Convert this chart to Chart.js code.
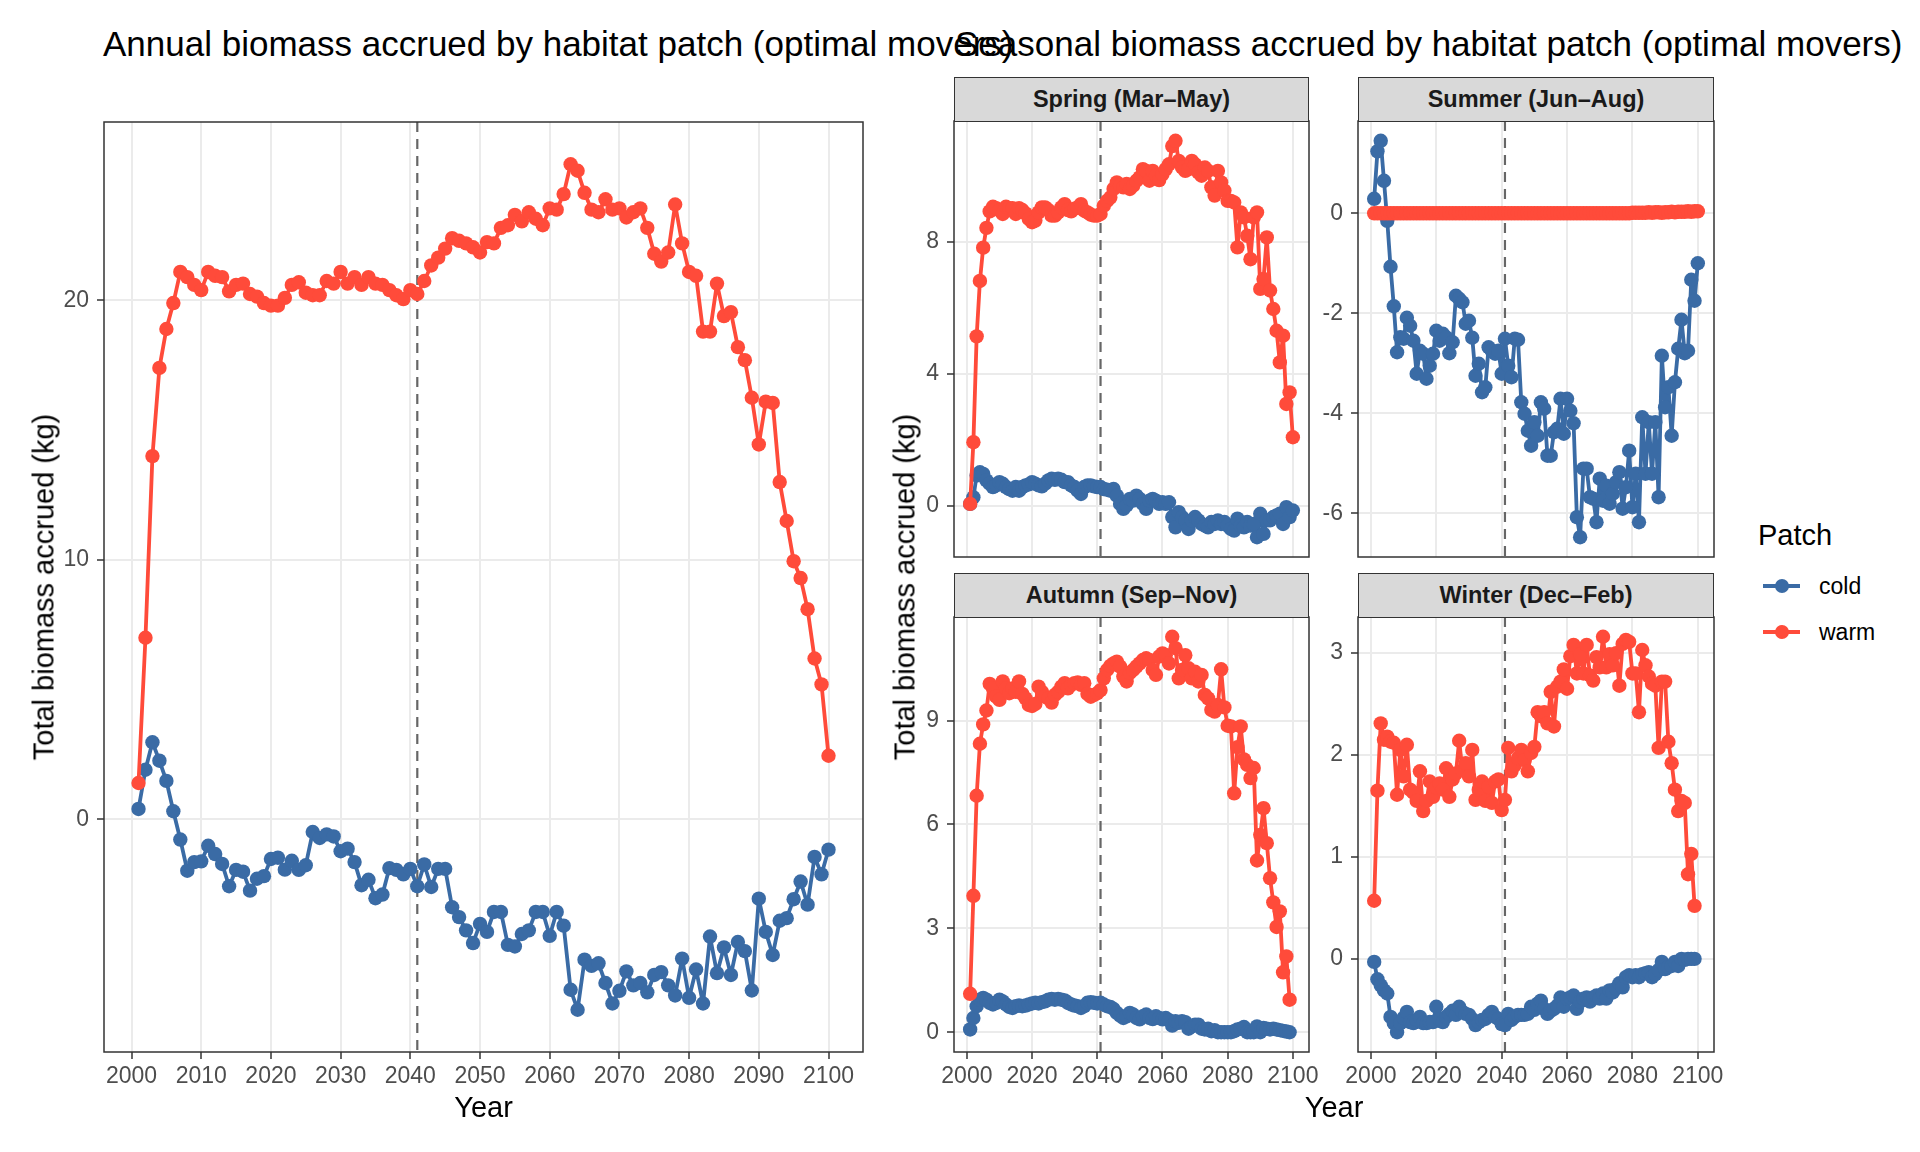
<!DOCTYPE html>
<html lang="en">
<head>
  <meta charset="UTF-8">
  <title>Biomass accrued by habitat patch (optimal movers)</title>
  <script src="https://cdn.jsdelivr.net/npm/chart.js@4.4.1/dist/chart.umd.min.js"></script>
  <style>
    body {
      margin: 0;
      width: 1920px;
      height: 1152px;
      background: #ffffff;
      position: relative;
      overflow: hidden;
      font-family: 'Liberation Sans', Arial, Helvetica, sans-serif;
    }

    canvas {
      position: absolute;
    }

    .txt {
      position: absolute;
      white-space: nowrap;
      line-height: 1;
      color: #000000;
    }

    .strip {
      position: absolute;
      box-sizing: border-box;
      background: #d9d9d9;
      border: 1.5px solid #333333;
      color: #1a1a1a;
      font-weight: bold;
      font-size: 23.5px;
      display: flex;
      align-items: center;
      justify-content: center;
    }

    .key-line {
      position: absolute;
      height: 4px;
    }

    .key-dot {
      position: absolute;
      width: 14px;
      height: 14px;
      border-radius: 50%;
    }
  </style>
</head>
<body>

  <script>
    // ---- data (2001 onwards) ----
    const firstYear = 2001;
    const refYear = 2041;

    const xTicksAnnual = [2000, 2010, 2020, 2030, 2040, 2050, 2060, 2070, 2080, 2090, 2100];
    const xTicksSeason = [2000, 2020, 2040, 2060, 2080, 2100];

    const yTicksAnnual = [0, 10, 20];
    const yTicksSpring = [0, 4, 8];
    const yTicksSummer = [-6, -4, -2, 0];
    const yTicksAutumn = [0, 3, 6, 9];
    const yTicksWinter = [0, 1, 2, 3];

    const annualWarm = [
      1.4, 7.0, 14.0, 17.4, 18.9, 19.9, 21.1, 20.9, 20.6, 20.4,
      21.1, 20.95, 20.9, 20.35, 20.6, 20.65, 20.25, 20.15, 19.9, 19.8,
      19.8, 20.1, 20.6, 20.7, 20.3, 20.2, 20.2, 20.75, 20.65, 21.1,
      20.65, 20.9, 20.6, 20.9, 20.65, 20.6, 20.4, 20.2, 20.05, 20.4,
      20.25, 20.75, 21.35, 21.65, 22.0, 22.4, 22.3, 22.2, 22.05, 21.85,
      22.25, 22.2, 22.8, 22.9, 23.3, 23.05, 23.4, 23.15, 22.9, 23.55,
      23.5, 24.1, 25.25, 25.0, 24.15, 23.5, 23.4, 23.9, 23.5, 23.55,
      23.2, 23.4, 23.55, 22.8, 21.8, 21.5, 21.85, 23.7, 22.2, 21.1,
      20.95, 18.8, 18.8, 20.65, 19.4, 19.55, 18.2, 17.7, 16.25, 14.45,
      16.1, 16.05, 13.0, 11.5, 9.95, 9.3, 8.1, 6.2, 5.2, 2.45
    ];
    const annualCold = [
      0.4, 1.91, 2.97, 2.26, 1.48, 0.31, -0.78, -1.98, -1.65, -1.62,
      -1.02, -1.34, -1.72, -2.58, -1.95, -2.02, -2.75, -2.29, -2.19, -1.53,
      -1.48, -1.94, -1.6, -1.95, -1.77, -0.49, -0.72, -0.58, -0.66, -1.23,
      -1.13, -1.65, -2.54, -2.33, -3.04, -2.9, -1.88, -1.95, -2.12, -1.91,
      -2.58, -1.74, -2.61, -1.91, -1.91, -3.39, -3.77, -4.28, -4.77, -4.03,
      -4.34, -3.57, -3.57, -4.84, -4.9, -4.42, -4.28, -3.57, -3.57, -4.49,
      -3.57, -4.1, -6.57, -7.34, -5.41, -5.65, -5.55, -6.31, -7.1, -6.61,
      -5.86, -6.4, -6.31, -6.67, -6.0, -5.89, -6.4, -6.79, -5.37, -6.88,
      -5.79, -7.1, -4.52, -5.93, -4.94, -6.0, -4.73, -5.08, -6.6, -3.06,
      -4.34, -5.23, -3.91, -3.81, -3.08, -2.4, -3.29, -1.45, -2.12, -1.17
    ];

    const springWarm = [
      0.05, 1.92, 5.13, 6.81, 7.82, 8.42, 8.92, 9.06, 9.02, 8.95,
      8.84, 9.06, 9.02, 9.02, 8.84, 9.02, 8.96, 8.86, 8.69, 8.59,
      8.64, 8.89, 9.04, 9.04, 8.96, 8.79, 8.79, 8.89, 9.04, 9.14,
      8.96, 8.92, 9.0, 9.04, 9.14, 8.94, 8.89, 8.82, 8.79, 8.79,
      8.84, 9.09, 9.24, 9.34, 9.6, 9.8, 9.7, 9.65, 9.75, 9.6,
      9.7, 9.85, 9.95, 10.2, 10.15, 9.85, 10.15, 10.0, 9.87, 10.05,
      10.2, 10.35, 10.9, 11.06, 10.45, 10.25, 10.15, 10.2, 10.45, 10.35,
      10.1, 10.0, 10.25, 10.15, 9.65, 9.4, 10.15, 9.8, 9.55, 9.24,
      9.24, 9.19, 7.83, 8.89, 8.74, 8.18, 7.47, 8.74, 8.89, 6.57,
      6.87, 8.13, 6.52, 5.96, 5.3, 4.34, 5.15, 3.08, 3.43, 2.07
    ];
    const springCold = [
      0.05, 0.25, 0.91, 1.01, 0.96, 0.76, 0.66, 0.56, 0.61, 0.71,
      0.66, 0.56, 0.5, 0.45, 0.56, 0.45, 0.56, 0.61, 0.64, 0.71,
      0.66, 0.61, 0.58, 0.66, 0.76, 0.81, 0.78, 0.81, 0.78, 0.71,
      0.71, 0.61, 0.56, 0.45, 0.35, 0.56, 0.61, 0.61, 0.58, 0.56,
      0.56, 0.5, 0.48, 0.45, 0.5, 0.3, 0.05, -0.1, 0.0, 0.2,
      0.15, 0.3, 0.2, 0.05, -0.1, 0.15, 0.2, 0.15, 0.05, 0.1,
      0.05, 0.1, -0.35, -0.66, -0.2, -0.35, -0.45, -0.71, -0.45, -0.35,
      -0.45, -0.56, -0.61, -0.66, -0.5, -0.56, -0.45, -0.56, -0.5, -0.61,
      -0.71, -0.76, -0.4, -0.61, -0.66, -0.5, -0.61, -0.56, -0.96, -0.25,
      -0.86, -0.45, -0.45, -0.35, -0.3, -0.25, -0.56, -0.05, -0.35, -0.15
    ];

    const summerWarm = [
      0, 0, 0, 0, 0, 0, 0, 0, 0, 0,
      0, 0, 0, 0, 0, 0, 0, 0, 0, 0,
      0, 0, 0, 0, 0, 0, 0, 0, 0, 0,
      0, 0, 0, 0, 0, 0, 0, 0, 0, 0,
      0, 0, 0, 0, 0, 0, 0, 0, 0, 0,
      0, 0, 0, 0, 0, 0, 0, 0, 0, 0,
      0, 0, 0, 0, 0, 0, 0, 0, 0, 0,
      0, 0, 0, 0, 0, 0, 0, 0, 0, 0.01,
      0.01, 0.01, 0.01, 0.01, 0.02, 0.01, 0.02, 0.02, 0.01, 0.02,
      0.02, 0.03, 0.02, 0.03, 0.03, 0.03, 0.04, 0.03, 0.04, 0.04
    ];
    const summerCold = [
      0.29, 1.24, 1.45, 0.65, -0.15, -1.07, -1.86, -2.78, -2.48, -2.51,
      -2.09, -2.25, -2.55, -3.21, -2.75, -2.81, -3.31, -3.05, -2.81, -2.35,
      -2.55, -2.41, -2.48, -2.8, -2.58, -1.65, -1.71, -1.78, -2.21, -2.15,
      -2.49, -3.25, -3.01, -3.58, -3.48, -2.68, -2.75, -2.81, -2.75, -3.21,
      -2.51, -3.05, -3.28, -2.51, -2.53, -3.78, -4.01, -4.35, -4.65, -4.18,
      -4.45, -3.78, -3.91, -4.85, -4.85, -4.38, -4.31, -3.71, -4.41, -3.71,
      -3.95, -4.2, -6.08, -6.48, -5.11, -5.11, -5.68, -5.71, -6.18, -5.31,
      -5.75, -5.45, -5.81, -5.61, -5.38, -5.18, -5.91, -5.48, -4.75, -5.88,
      -5.21, -6.18, -4.08, -5.21, -4.18, -5.21, -4.18, -5.68, -2.85, -3.88,
      -3.48, -4.45, -3.38, -2.71, -2.13, -2.8, -2.75, -1.33, -1.75, -1.0
    ];

    const autumnWarm = [
      1.11, 3.94, 6.83, 8.33, 8.89, 9.29, 10.06, 9.93, 9.69, 9.6,
      10.13, 9.93, 9.79, 9.93, 9.83, 10.13, 9.77, 9.64, 9.45, 9.42,
      9.48, 9.98, 9.83, 9.69, 9.64, 9.52, 9.74, 9.83, 9.98, 10.08,
      9.93, 10.03, 10.08, 10.1, 10.03, 10.08, 9.77, 9.69, 9.74, 9.79,
      9.88, 10.22, 10.46, 10.58, 10.65, 10.7, 10.56, 10.27, 10.13, 10.38,
      10.46, 10.56, 10.65, 10.75, 10.8, 10.75, 10.46, 10.32, 10.85, 10.94,
      10.89, 10.65, 11.42, 11.09, 10.22, 10.46, 10.89, 10.51, 10.22, 10.41,
      10.13, 10.32, 9.74, 9.64, 9.31, 9.26, 9.45, 10.48, 9.38, 8.85,
      8.83, 6.9, 8.23, 8.83, 7.88, 7.72, 7.34, 7.63, 4.96, 5.7,
      6.47, 5.46, 4.45, 3.75, 3.04, 3.49, 1.73, 2.19, 0.94
    ];
    const autumnCold = [
      0.08, 0.41, 0.75, 0.94, 0.99, 0.94, 0.85, 0.8, 0.85, 0.94,
      0.89, 0.8, 0.73, 0.7, 0.75, 0.77, 0.75, 0.77, 0.8, 0.83,
      0.85, 0.83, 0.87, 0.89, 0.94, 0.96, 0.94, 0.96, 0.94, 0.92,
      0.85, 0.8, 0.77, 0.75, 0.7, 0.75, 0.85, 0.87, 0.85, 0.83,
      0.85, 0.8, 0.75, 0.73, 0.67, 0.56, 0.48, 0.41, 0.46, 0.56,
      0.51, 0.41, 0.37, 0.46, 0.51, 0.41, 0.38, 0.46, 0.41, 0.37,
      0.41, 0.35, 0.19, 0.32, 0.27, 0.32, 0.29, 0.1, 0.17, 0.22,
      0.22, 0.1, 0.08, 0.1, 0.03, 0.06, 0.0, 0.0, 0.0, 0.0,
      0.0, 0.03, 0.08, 0.1, 0.15, 0.0, 0.0, 0.0, 0.17, 0.0,
      0.12, 0.1, 0.08, 0.1, 0.08, 0.06, 0.04, 0.02, 0.0
    ];

    const winterWarm = [
      0.57, 1.65, 2.31, 2.15, 2.18, 2.13, 2.12, 1.61, 2.05, 1.79,
      2.1, 1.66, 1.63, 1.55, 1.84, 1.45, 1.55, 1.74, 1.59, 1.68,
      1.72, 1.66, 1.87, 1.59, 1.76, 1.82, 2.14, 1.85, 1.92, 1.79,
      2.05, 1.56, 1.66, 1.74, 1.55, 1.69, 1.53, 1.74, 1.76, 1.46,
      1.56, 2.07, 1.84, 1.9, 1.97, 2.05, 1.95, 1.84, 2.02, 2.08,
      2.42, 2.38, 2.42, 2.31, 2.62, 2.28, 2.67, 2.72, 2.84, 2.65,
      2.97, 3.08, 2.8, 2.99, 2.8, 3.08, 2.78, 2.73, 2.96, 2.86,
      3.16, 2.86, 2.99, 2.88, 3.0, 2.68, 3.09, 3.13, 3.11, 2.8,
      2.8, 2.42, 3.03, 2.88, 2.77, 2.7, 2.68, 2.07, 2.72, 2.72,
      2.13, 1.92, 1.66, 1.45, 1.55, 1.53, 0.83, 1.03, 0.52
    ];
    const winterCold = [
      -0.03, -0.2, -0.26, -0.31, -0.34, -0.57, -0.63, -0.72, -0.63, -0.58,
      -0.52, -0.62, -0.63, -0.6, -0.57, -0.63, -0.63, -0.62, -0.62, -0.47,
      -0.59, -0.62, -0.57, -0.54, -0.51, -0.55, -0.47, -0.52, -0.54, -0.55,
      -0.59, -0.65, -0.62, -0.6, -0.59, -0.55, -0.52, -0.57, -0.59, -0.64,
      -0.65, -0.54, -0.6, -0.57, -0.55, -0.55, -0.55, -0.54, -0.47, -0.5,
      -0.44, -0.41, -0.49, -0.54, -0.51, -0.49, -0.46, -0.38, -0.47, -0.39,
      -0.38, -0.36, -0.49, -0.42, -0.39, -0.38, -0.42, -0.38, -0.36, -0.39,
      -0.34, -0.39, -0.31, -0.33, -0.29, -0.24, -0.28, -0.18, -0.16, -0.18,
      -0.16, -0.18, -0.15, -0.14, -0.13, -0.18, -0.15, -0.11, -0.03, -0.1,
      -0.08, -0.07, -0.03, -0.07, 0.0, -0.01, 0.0, 0.0, 0.0
    ];

    // ---- look ----
    const FONT = "'Liberation Sans', Arial, Helvetica, sans-serif";
    const COLD = '#3a6ba5';
    const WARM = '#ff4b3a';
    const PAD = 30;
    const Y_AXIS_W = 60;
    const X_AXIS_H = 50;

    const lastYear = firstYear + annualWarm.length - 1;
    const xSpan = lastYear - firstYear;
    const xMin = firstYear - xSpan * 0.05;
    const xMax = lastYear + xSpan * 0.05;

    const panels = [
      { left: 104, top: 122, width: 759, height: 930, cold: annualCold, warm: annualWarm, xTicks: xTicksAnnual, yTicks: yTicksAnnual, xLabels: true },
      { left: 954, top: 121, width: 355, height: 436, cold: springCold, warm: springWarm, xTicks: xTicksSeason, yTicks: yTicksSpring, xLabels: false },
      { left: 1358, top: 121, width: 356, height: 436, cold: summerCold, warm: summerWarm, xTicks: xTicksSeason, yTicks: yTicksSummer, xLabels: false },
      { left: 954, top: 617, width: 355, height: 435, cold: autumnCold, warm: autumnWarm, xTicks: xTicksSeason, yTicks: yTicksAutumn, xLabels: true },
      { left: 1358, top: 617, width: 356, height: 435, cold: winterCold, warm: winterWarm, xTicks: xTicksSeason, yTicks: yTicksWinter, xLabels: true }
    ];

    const strips = [
      { text: 'Spring (Mar–May)', left: 954, top: 77, width: 355 },
      { text: 'Summer (Jun–Aug)', left: 1358, top: 77, width: 356 },
      { text: 'Autumn (Sep–Nov)', left: 954, top: 573, width: 355 },
      { text: 'Winter (Dec–Feb)', left: 1358, top: 573, width: 356 }
    ];

    function toPoints(values) {
      return values.map((v, i) => ({ x: firstYear + i, y: v }));
    }

    function paddedRange(a, b) {
      const all = a.concat(b);
      const lo = Math.min(...all);
      const hi = Math.max(...all);
      const e = (hi - lo) * 0.05;
      return [lo - e, hi + e];
    }

    // dashed reference year under the data, panel border on top
    const panelDecor = {
      id: 'panelDecor',
      beforeDatasetsDraw(chart) {
        const { ctx, chartArea: a, scales } = chart;
        const px = scales.x.getPixelForValue(refYear);
        ctx.save();
        ctx.strokeStyle = '#666666';
        ctx.lineWidth = 2.2;
        ctx.setLineDash([10, 7]);
        ctx.beginPath();
        ctx.moveTo(px, a.top);
        ctx.lineTo(px, a.bottom);
        ctx.stroke();
        ctx.restore();
      },
      afterDatasetsDraw(chart) {
        const { ctx, chartArea: a } = chart;
        ctx.save();
        ctx.strokeStyle = '#333333';
        ctx.lineWidth = 1.5;
        ctx.strokeRect(a.left, a.top, a.right - a.left, a.bottom - a.top);
        ctx.restore();
      }
    };

    function seriesStyle(label, color, order) {
      return {
        label: label,
        borderColor: color,
        backgroundColor: color,
        pointBackgroundColor: color,
        borderWidth: 3.8,
        borderJoinStyle: 'round',
        borderCapStyle: 'round',
        pointRadius: 7.2,
        pointBorderWidth: 0,
        tension: 0,
        order: order
      };
    }

    function drawPanel(p) {
      const canvas = document.createElement('canvas');
      canvas.width = Y_AXIS_W + p.width + PAD;
      canvas.height = PAD + p.height + X_AXIS_H;
      canvas.style.left = (p.left - Y_AXIS_W) + 'px';
      canvas.style.top = (p.top - PAD) + 'px';
      document.body.appendChild(canvas);

      const [yMin, yMax] = paddedRange(p.cold, p.warm);
      const tickFont = { family: FONT, size: 23 };

      new Chart(canvas, {
        type: 'line',
        data: {
          datasets: [
            Object.assign({ data: toPoints(p.cold) }, seriesStyle('cold', COLD, 2)),
            Object.assign({ data: toPoints(p.warm) }, seriesStyle('warm', WARM, 1))
          ]
        },
        options: {
          responsive: false,
          animation: false,
          events: [],
          layout: { padding: { top: PAD, right: PAD, left: 0, bottom: 0 } },
          plugins: { legend: { display: false }, tooltip: { enabled: false } },
          scales: {
            x: {
              type: 'linear',
              min: xMin,
              max: xMax,
              afterBuildTicks: s => { s.ticks = p.xTicks.map(v => ({ value: v })); },
              afterFit: s => { s.height = X_AXIS_H; },
              ticks: {
                display: p.xLabels,
                autoSkip: false,
                maxRotation: 0,
                padding: 4,
                color: '#4d4d4d',
                font: tickFont,
                callback: v => String(v)
              },
              grid: {
                color: '#ebebeb',
                lineWidth: 2,
                drawTicks: p.xLabels,
                tickLength: 7,
                tickColor: '#333333',
                tickWidth: 1.5
              },
              border: { display: false }
            },
            y: {
              type: 'linear',
              min: yMin,
              max: yMax,
              afterBuildTicks: s => { s.ticks = p.yTicks.map(v => ({ value: v })); },
              afterFit: s => { s.width = Y_AXIS_W; },
              ticks: {
                padding: 8,
                color: '#4d4d4d',
                font: tickFont,
                callback: v => String(v)
              },
              grid: {
                color: '#ebebeb',
                lineWidth: 2,
                tickLength: 7,
                tickColor: '#333333',
                tickWidth: 1.5
              },
              border: { display: false }
            }
          }
        },
        plugins: [panelDecor]
      });
    }

    function addText(text, x, y, size, opts) {
      const o = opts || {};
      const d = document.createElement('div');
      d.className = 'txt';
      d.textContent = text;
      d.style.fontSize = size + 'px';
      d.style.left = x + 'px';
      d.style.top = y + 'px';
      if (o.center) d.style.transform = 'translate(-50%, -50%)';
      else d.style.transform = 'translateY(-50%)';
      if (o.rotate) d.style.transform = 'translate(-50%, -50%) rotate(-90deg)';
      document.body.appendChild(d);
    }

    panels.forEach(drawPanel);

    strips.forEach(s => {
      const d = document.createElement('div');
      d.className = 'strip';
      d.textContent = s.text;
      d.style.left = s.left + 'px';
      d.style.top = s.top + 'px';
      d.style.width = s.width + 'px';
      d.style.height = '45px';
      document.body.appendChild(d);
    });

    addText('Annual biomass accrued by habitat patch (optimal movers)', 103, 43, 35);
    addText('Seasonal biomass accrued by habitat patch (optimal movers)', 955, 43, 35);

    addText('Total biomass accrued (kg)', 44, 587, 29, { rotate: true });
    addText('Total biomass accrued (kg)', 905, 587, 29, { rotate: true });
    addText('Year', 483.5, 1107, 29, { center: true });
    addText('Year', 1334, 1107, 29, { center: true });

    // legend
    addText('Patch', 1758, 535, 29);
    [['cold', COLD, 586], ['warm', WARM, 632]].forEach(([name, color, y]) => {
      const line = document.createElement('div');
      line.className = 'key-line';
      line.style.background = color;
      line.style.left = '1763px';
      line.style.width = '37px';
      line.style.top = (y - 2) + 'px';
      document.body.appendChild(line);
      const dot = document.createElement('div');
      dot.className = 'key-dot';
      dot.style.background = color;
      dot.style.left = (1781.5 - 7) + 'px';
      dot.style.top = (y - 7) + 'px';
      document.body.appendChild(dot);
      addText(name, 1819, y, 23);
    });
  </script>

</body>
</html>
